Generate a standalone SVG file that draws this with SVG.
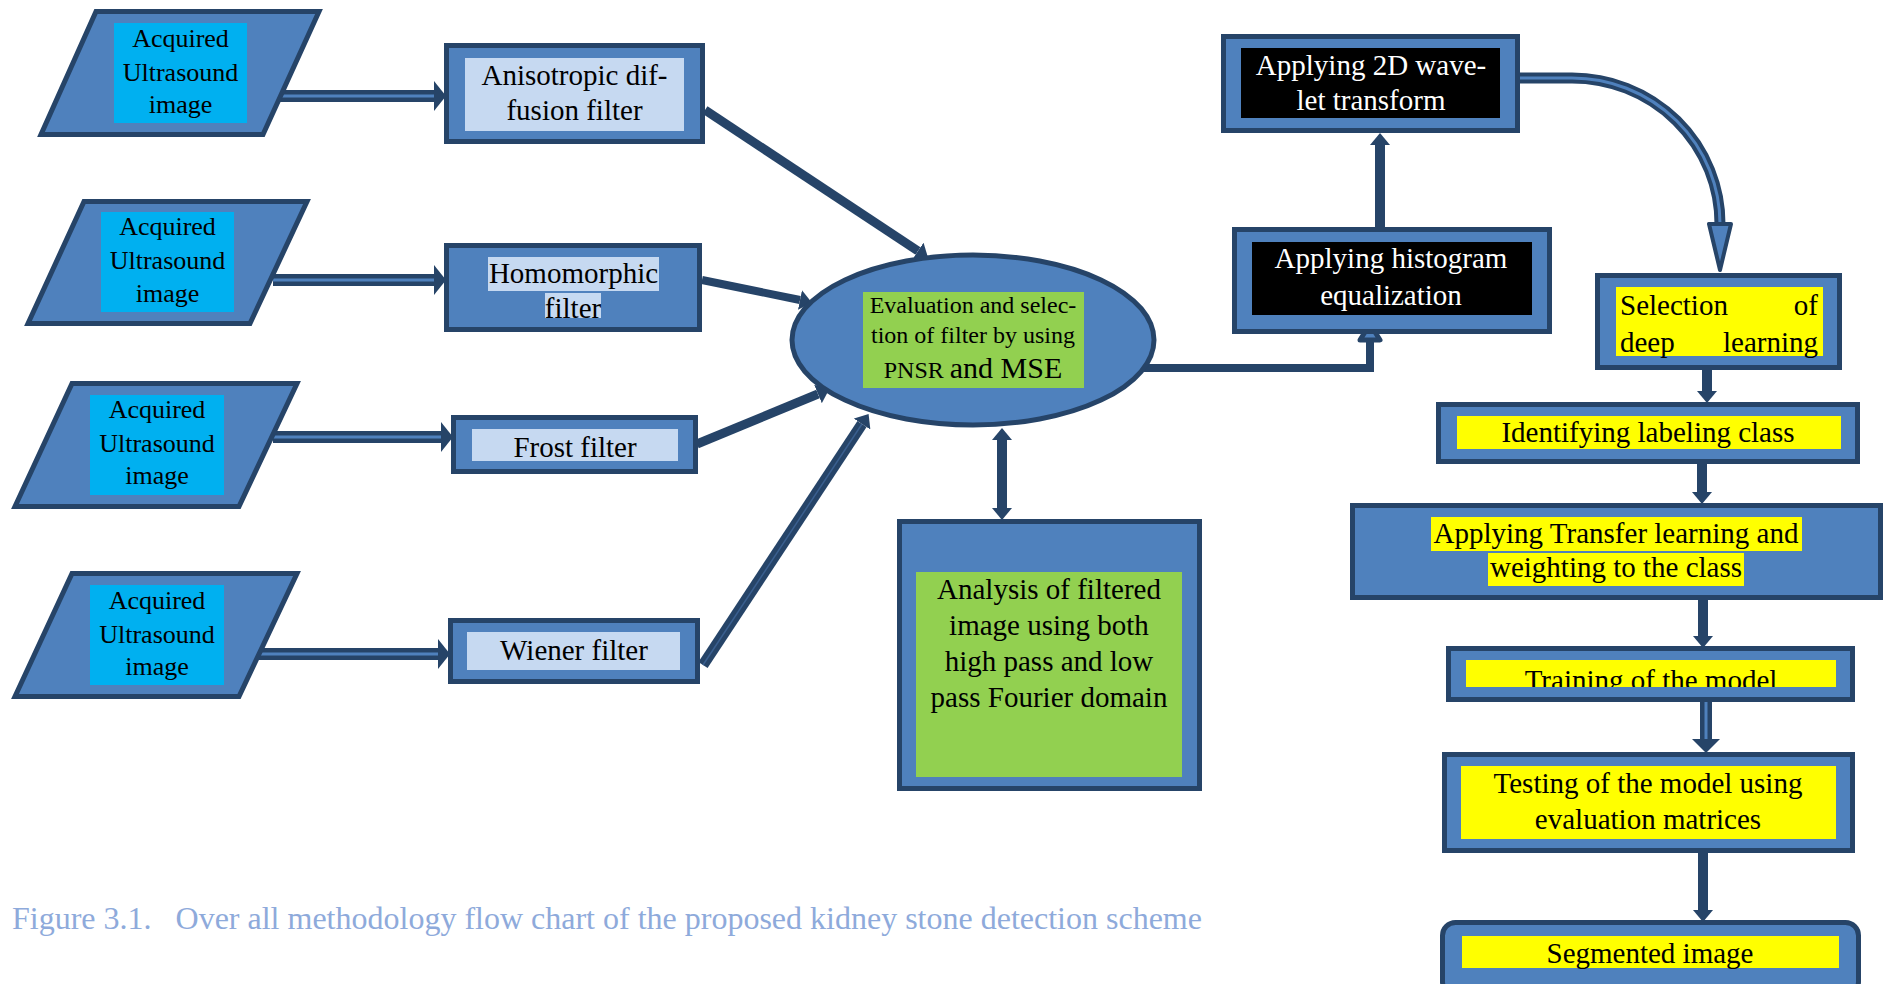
<svg xmlns="http://www.w3.org/2000/svg" width="1887" height="984" viewBox="0 0 1887 984">
<style>
.par{fill:#4F81BD;stroke:#264468;stroke-width:5;stroke-linejoin:miter}
.box{fill:#4F81BD;stroke:#264468;stroke-width:5}
.cyan{fill:#00B0F0}
.lite{fill:#C6D9F1}
.green{fill:#92D050}
.yel{fill:#FFFF00}
.blk{fill:#000000}
.t{font-family:"Liberation Serif","Times New Roman",serif;fill:#000;text-anchor:middle}
.t.st{text-anchor:start}
.t.en{text-anchor:end}
.w{fill:#FFFFFF}
.s26{font-size:26px}
.s29{font-size:29px}
.s24{font-size:24px}
.ln{fill:none;stroke:#264468;stroke-linecap:butt}
.in{fill:none;stroke:#4F81BD;stroke-linecap:butt}
.cap{font-family:"Liberation Serif","Times New Roman",serif;font-size:32px;fill:#8EAADB}
</style>
<defs>
<marker id="ah" viewBox="0 0 12 20" refX="0" refY="10" markerWidth="12" markerHeight="20" markerUnits="userSpaceOnUse" orient="auto-start-reverse">
<path d="M0,0 L12,10 L0,20 z" fill="#264468"/>
</marker>
<marker id="ah2" viewBox="0 0 12 30" refX="0" refY="15" markerWidth="12" markerHeight="30" markerUnits="userSpaceOnUse" orient="auto">
<path d="M0,0 L12,15 L0,30 z" fill="#264468"/>
</marker>
<marker id="ah3" viewBox="0 0 14 28" refX="0" refY="14" markerWidth="14" markerHeight="28" markerUnits="userSpaceOnUse" orient="auto">
<path d="M0,0 L14,14 L0,28 z" fill="#264468"/>
</marker>
<clipPath id="clipHomo"><rect x="440" y="240" width="270" height="78"/></clipPath>
<clipPath id="clipTrain"><rect x="1440" y="640" width="420" height="47"/></clipPath>
</defs>

<g id="connectors">
<line class="ln" x1="271" y1="96" x2="434" y2="96" stroke-width="12" marker-end="url(#ah2)"/>
<line class="in" x1="271" y1="96" x2="434" y2="96" stroke-width="3"/>
<line class="ln" x1="273" y1="280" x2="434" y2="280" stroke-width="12" marker-end="url(#ah2)"/>
<line class="in" x1="273" y1="280" x2="434" y2="280" stroke-width="3"/>
<line class="ln" x1="273" y1="437" x2="441" y2="437" stroke-width="12" marker-end="url(#ah2)"/>
<line class="in" x1="273" y1="437" x2="441" y2="437" stroke-width="3"/>
<line class="ln" x1="257" y1="654" x2="438" y2="654" stroke-width="12" marker-end="url(#ah2)"/>
<line class="in" x1="257" y1="654" x2="438" y2="654" stroke-width="3"/>
<line class="ln" x1="705" y1="110" x2="918" y2="251" stroke-width="9" marker-end="url(#ah)"/>
<line class="ln" x1="702" y1="280" x2="800" y2="300" stroke-width="8" marker-end="url(#ah)"/>
<line class="ln" x1="697" y1="444" x2="818" y2="394" stroke-width="9" marker-end="url(#ah)"/>
<line class="ln" x1="703" y1="665" x2="862" y2="424" stroke-width="11" marker-end="url(#ah)"/>
<line x1="703" y1="665" x2="862" y2="424" stroke="#3A5F8F" stroke-width="1.5"/>
<line class="ln" x1="1002" y1="440" x2="1002" y2="508" stroke-width="10" marker-start="url(#ah)" marker-end="url(#ah)"/>
<path class="ln" d="M1143,368 H1370 V340" stroke-width="8" stroke-linejoin="miter"/>
<polygon points="1360,340 1370,324 1380,340" fill="#4F81BD" stroke="#264468" stroke-width="5" stroke-linejoin="round"/>
<line class="ln" x1="1380" y1="227" x2="1380" y2="145" stroke-width="10" marker-end="url(#ah)"/>
<path class="ln" d="M1520,78 H1572 A148,146 0 0 1 1720,224" stroke-width="11"/>
<path class="in" d="M1520,78 H1572 A148,146 0 0 1 1720,224" stroke-width="3"/>
<polygon points="1709,224 1731,224 1720,270" fill="#4F81BD" stroke="#264468" stroke-width="4" stroke-linejoin="round"/>
<line class="ln" x1="1707" y1="370" x2="1707" y2="391" stroke-width="10" marker-end="url(#ah)"/>
<line class="ln" x1="1702" y1="452" x2="1702" y2="492" stroke-width="10" marker-end="url(#ah)"/>
<line class="ln" x1="1703" y1="598" x2="1703" y2="636" stroke-width="10" marker-end="url(#ah)"/>
<line class="ln" x1="1706" y1="702" x2="1706" y2="739" stroke-width="12" marker-end="url(#ah3)"/>
<line class="in" x1="1706" y1="702" x2="1706" y2="739" stroke-width="3"/>
<line class="ln" x1="1703" y1="843" x2="1703" y2="910" stroke-width="10" marker-end="url(#ah)"/>
</g>

<g id="input1">
<polygon class="par" points="96,11.5 319,11.5 263,134.5 41,134.5"/>
<rect class="cyan" x="114" y="23" width="133" height="100"/>
<text class="t s26" x="180.5" y="47">Acquired</text>
<text class="t s26" x="180.5" y="81">Ultrasound</text>
<text class="t s26" x="180.5" y="113">image</text>
</g>
<g id="input2">
<polygon class="par" points="84,201.5 307,201.5 250,323.5 28,323.5"/>
<rect class="cyan" x="101" y="212" width="133" height="100"/>
<text class="t s26" x="167.5" y="235">Acquired</text>
<text class="t s26" x="167.5" y="269">Ultrasound</text>
<text class="t s26" x="167.5" y="302">image</text>
</g>
<g id="input3">
<polygon class="par" points="72,383.5 297,383.5 239,506.5 15,506.5"/>
<rect class="cyan" x="90" y="395" width="134" height="100"/>
<text class="t s26" x="157" y="418">Acquired</text>
<text class="t s26" x="157" y="452">Ultrasound</text>
<text class="t s26" x="157" y="484">image</text>
</g>
<g id="input4">
<polygon class="par" points="72,573.5 297,573.5 239,696.5 15,696.5"/>
<rect class="cyan" x="90" y="585" width="134" height="100"/>
<text class="t s26" x="157" y="609">Acquired</text>
<text class="t s26" x="157" y="643">Ultrasound</text>
<text class="t s26" x="157" y="675">image</text>
</g>

<g id="anisotropic">
<rect class="box" x="446.5" y="45.5" width="256" height="96"/>
<rect class="lite" x="465" y="58" width="219" height="73"/>
<text class="t s29" x="574.5" y="85">Anisotropic dif-</text>
<text class="t s29" x="574.5" y="120">fusion filter</text>
</g>
<g id="homomorphic">
<rect class="box" x="446.5" y="245.5" width="253" height="84"/>
<rect class="lite" x="488" y="257" width="171" height="34"/>
<rect class="lite" x="545" y="293" width="56" height="25"/>
<g clip-path="url(#clipHomo)">
<text class="t s29" x="573.5" y="283">Homomorphic</text>
<text class="t s29" x="573" y="318">filter</text>
</g>
</g>
<g id="frost">
<rect class="box" x="453.5" y="417.5" width="242" height="54"/>
<rect class="lite" x="472" y="429" width="206" height="32"/>
<text class="t s29" x="575" y="457">Frost filter</text>
</g>
<g id="wiener">
<rect class="box" x="450.5" y="620.5" width="247" height="61"/>
<rect class="lite" x="467" y="632" width="213" height="38"/>
<text class="t s29" x="574" y="660">Wiener filter</text>
</g>

<g id="evaluation">
<ellipse cx="973" cy="340" rx="181" ry="85" fill="#4F81BD" stroke="#264468" stroke-width="5"/>
<rect class="green" x="863" y="292" width="221" height="96"/>
<text class="t s24" x="973" y="313">Evaluation and selec-</text>
<text class="t s24" x="973" y="343">tion of filter by using</text>
<text class="t" x="973" y="378"><tspan font-size="24">PNSR </tspan><tspan font-size="30">and MSE</tspan></text>
</g>

<g id="analysis">
<rect class="box" x="899.5" y="521.5" width="300" height="267"/>
<rect class="green" x="916" y="572" width="266" height="205"/>
<text class="t s29" x="1049" y="599">Analysis of filtered</text>
<text class="t s29" x="1049" y="635">image using both</text>
<text class="t s29" x="1049" y="671">high pass and low</text>
<text class="t s29" x="1049" y="707">pass Fourier domain</text>
</g>

<g id="histogram">
<rect class="box" x="1234.5" y="229.5" width="315" height="102"/>
<rect class="blk" x="1252" y="242" width="280" height="73"/>
<text class="t s29 w" x="1391" y="268">Applying histogram</text>
<text class="t s29 w" x="1391" y="305">equalization</text>
</g>

<g id="wavelet">
<rect class="box" x="1223.5" y="36.5" width="294" height="94"/>
<rect class="blk" x="1241" y="48" width="259" height="70"/>
<text class="t s29 w" x="1371" y="75">Applying 2D wave-</text>
<text class="t s29 w" x="1371" y="110">let transform</text>
</g>

<g id="selection">
<rect class="box" x="1597.5" y="275.5" width="242" height="92"/>
<rect class="yel" x="1616" y="287" width="207" height="69"/>
<text class="t s29 st" x="1620" y="315">Selection</text>
<text class="t s29 en" x="1818" y="315">of</text>
<text class="t s29 st" x="1620" y="352">deep</text>
<text class="t s29 en" x="1818" y="352">learning</text>
</g>

<g id="identifying">
<rect class="box" x="1438.5" y="404.5" width="419" height="57"/>
<rect class="yel" x="1457" y="416" width="384" height="33"/>
<text class="t s29" x="1648" y="442">Identifying labeling class</text>
</g>

<g id="transfer">
<rect class="box" x="1352.5" y="505.5" width="528" height="92"/>
<rect class="yel" x="1431" y="517" width="371" height="34"/>
<rect class="yel" x="1488" y="553" width="256" height="33"/>
<text class="t s29" x="1616" y="543">Applying Transfer learning and</text>
<text class="t s29" x="1616" y="577">weighting to the class</text>
</g>

<g id="training">
<rect class="box" x="1448.5" y="648.5" width="404" height="51"/>
<rect class="yel" x="1466" y="660" width="370" height="27"/>
<g clip-path="url(#clipTrain)">
<text class="t s29" x="1651" y="690">Training of the model</text>
</g>
</g>

<g id="testing">
<rect class="box" x="1444.5" y="754.5" width="408" height="96"/>
<rect class="yel" x="1461" y="766" width="375" height="73"/>
<text class="t s29" x="1648" y="793">Testing of the model using</text>
<text class="t s29" x="1648" y="829">evaluation matrices</text>
</g>

<g id="segmented">
<rect class="box" x="1442.5" y="922.5" width="416" height="72" rx="13" ry="13"/>
<rect class="yel" x="1462" y="936" width="377" height="32"/>
<text class="t s29" x="1650" y="963">Segmented image</text>
</g>

<g id="caption">
<text class="cap" x="12" y="929" xml:space="preserve">Figure 3.1.   Over all methodology flow chart of the proposed kidney stone detection scheme</text>
</g>
</svg>
